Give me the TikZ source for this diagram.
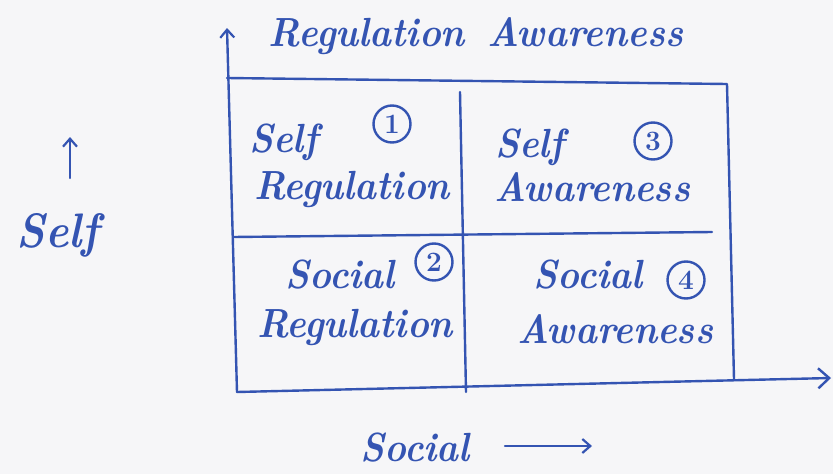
\documentclass[tikz,border=0pt]{standalone}
\usetikzlibrary{arrows.meta}
\definecolor{ink}{RGB}{52,84,178}
\definecolor{paper}{RGB}{246,246,248}
\newcommand{\hw}[1]{\scalebox{1.0}[1.1]{#1}}
\begin{document}
\begin{tikzpicture}[x=1pt,y=-1pt,
  pen/.style={draw=ink,line width=2.4pt,line cap=round,line join=round},
  lbl/.style={text=ink,font=\fontsize{37}{40}\selectfont\bfseries\itshape,inner sep=0pt,anchor=base},
  biglbl/.style={lbl,font=\fontsize{44}{48}\selectfont\bfseries\itshape},
  num/.style={circle,draw=ink,line width=2.4pt,text=ink,font=\fontsize{28}{30}\selectfont\bfseries,minimum size=37pt,inner sep=0pt},
  bigtip/.style={-{Straight Barb[length=11pt,width=20pt,line width=2.4pt]}},
  smalltip/.style={-{Straight Barb[length=8pt,width=14pt,line width=2.2pt]}}]
\fill[paper] (0,0) rectangle (833,474);
\useasboundingbox (0,0) rectangle (833,474);

% frame coordinates
\coordinate (tl) at (227,78);
\coordinate (ytop) at (227,28);
\coordinate (bl) at (237,392);
\coordinate (tr) at (727,84);
\coordinate (br) at (734,379);
\coordinate (xend) at (831,378);
\coordinate (mt) at (460,92);
\coordinate (mb) at (466,392);
\coordinate (ml) at (233,237);
\coordinate (mr) at (712,232);

% axes and box
\draw[pen,smalltip] (bl) -- (ytop);
\draw[pen,bigtip] (bl) -- (xend);
\draw[pen] (tl) -- (tr) -- (br);
\draw[pen] (mt) -- (mb);
\draw[pen] (ml) -- (mr);

% top label
\node[lbl] (top) at (476,46) {\hw{Regulation\hspace{0.6em}Awareness}};

% left label
\node[biglbl] (selfax) at (58,247) {\hw{Self}};
\coordinate (sa0) at (70,178);
\coordinate (sa1) at (70,137);
\draw[pen,smalltip] (sa0) -- (sa1);

% bottom label
\node[lbl] (socax) at (415,461) {\hw{Social}};
\coordinate (sb0) at (505,446);
\coordinate (sb1) at (592,446);
\draw[pen,smalltip] (sb0) -- (sb1);

% quadrant 1
\node[lbl] (q1a) at (284,152) {\hw{Self}};
\node[num] (n1) at (392,124) {1};
\node[lbl] (q1b) at (352,199) {\hw{Regulation}};

% quadrant 3
\node[lbl] (q3a) at (530,157) {\hw{Self}};
\node[num] (n3) at (653,141) {3};
\node[lbl] (q3b) at (592,201) {\hw{Awareness}};

% quadrant 2
\node[lbl] (q2a) at (340,288) {\hw{Social}};
\node[num] (n2) at (434,262) {2};
\node[lbl] (q2b) at (355,337) {\hw{Regulation}};

% quadrant 4
\node[lbl] (q4a) at (588,288) {\hw{Social}};
\node[num] (n4) at (686,280) {4};
\node[lbl] (q4b) at (615,343) {\hw{Awareness}};
\end{tikzpicture}
\end{document}
